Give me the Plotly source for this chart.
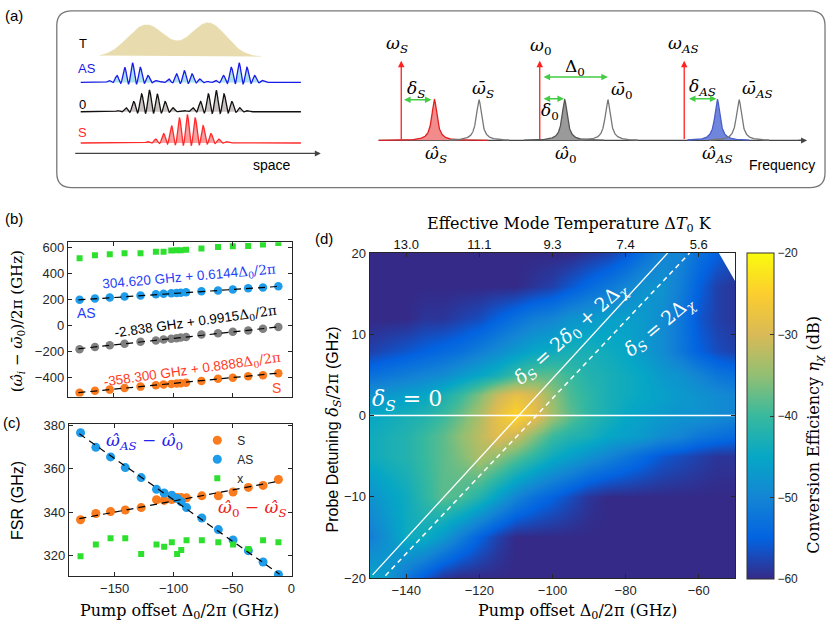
import numpy as np
import plotly.graph_objects as go

W, H = 831, 631
SANS = "Liberation Sans, Arial, sans-serif"
SERIF = "DejaVu Serif, serif"

# ---------------- data: panels (b) and (c) ----------------
pump_offset = [-179, -166, -153.5, -141, -127.5, -114.5, -108, -101.5, -97,
               -93.5, -89, -76, -62, -49.5, -36.5, -24, -11]

# (b) mode frequencies relative to the cold mode (GHz)
b_as = [195, 205, 212, 220, 228, 237, 242, 245, 248, 250, 253, 260, 267,
        275, 283, 290, 300]
b_zero = [-185, -168, -155, -142, -127, -117, -110, -104, -100, -95, -90,
          -72, -62, -50, -40, -28, -13]
b_s = [-520, -503, -495, -482, -472, -462, -456, -452, -448, -446, -442,
       -428, -412, -404, -393, -384, -370]
b_x = [515, 537, 545, 552, 552, 565, 565, 573, 575, 576, 580, 590, 600,
       607, 608, 620, 632]
fit_x = [-180, -10]
fit_b_as = [194, 298.5]
fit_b_zero = [-181.3, -12.8]
fit_b_s = [-518.3, -367.2]

# (c) free spectral ranges (GHz)
c_s = [336.5, 339.4, 340.3, 341.0, 342.1, 345.7, 345.4, 345.8, 346.7, 346.7,
       346.6, 347.5, 347.5, 349.3, 351.4, 352.3, 355.0]
c_as = [376.5, 369.8, 365.4, 360.5, 355.9, 350.5, 348.8, 347.8, 346.3, 344.8,
        342.1, 337.3, 332.0, 327.2, 322.3, 317.1, 311.4]
c_x = [319.8, 325.2, 328.0, 328.0, 320.8, 325.2, 324.1, 326.2, 320.8, 322.6,
       327.1, 327.1, 326.2, 325.2, 323.1, 327.1, 326.2]
fit_c_s = [337.0, 354.3]
fit_c_as = [376.0, 311.5]

# ---------------- data: panel (d) conversion efficiency (dB) ----------------
det_x = [-150, -145, -140, -135, -130, -125, -120, -115, -110, -105, -100,
         -95, -90, -85, -80, -75, -70, -65, -60, -55, -50]
det_y = [-20, -15, -10, -5, -2.5, 0, 2.5, 5, 8, 12, 16, 20]
eff_m20 = [-45, -47, -52, -56, -59, -60, -60, -60, -60, -60, -60, -60, -60, -60, -60, -60, -60, -60, -60, -60, -60]
eff_m15 = [-51, -48, -44, -44, -47, -51, -55, -58, -60, -60, -60, -60, -60, -60, -60, -60, -60, -60, -60, -60, -60]
eff_m10 = [-48, -46, -44, -41, -38, -39, -42, -46, -50, -53, -55, -57, -59, -60, -60, -60, -60, -60, -60, -60, -60]
eff_m5 = [-44, -43, -42, -40, -38, -36, -33, -35, -38, -41, -44, -46, -48, -50, -52, -54, -56, -57, -58, -59, -59]
eff_m2 = [-44, -43, -42, -40, -38, -35, -32, -29, -31, -36, -40, -42, -43, -45, -46, -47, -49, -50, -52, -53, -54]
eff_0 = [-45, -44, -43, -42, -40, -37, -33, -28, -24, -28, -34, -38, -41, -43, -45, -46, -47, -48, -48, -49, -50]
eff_p2 = [-48, -47, -46, -45, -43, -40, -36, -31, -28, -30, -35, -39, -41, -43, -44, -45, -46, -47, -48, -49, -50]
eff_p5 = [-53, -52, -51, -50, -49, -47, -45, -43, -40, -38, -38, -40, -42, -43, -44, -45, -47, -48, -50, -52, -53]
eff_p8 = [-58, -57, -56, -55, -54, -53, -51, -49, -47, -45, -44, -43, -43, -44, -45, -47, -49, -52, -55, -57, -58]
eff_p12 = [-60, -60, -60, -59, -59, -58, -57, -55, -53, -51, -50, -48, -47, -46, -46, -47, -49, -52, -56, -58, -59]
eff_p16 = [-60, -60, -60, -60, -60, -60, -60, -60, -60, -59, -58, -56, -54, -52, -50, -48, -48, -51, -55, -58, -59]
eff_p20 = [-60, -60, -60, -60, -60, -60, -60, -60, -60, -60, -60, -60, -59, -58, -56, -53, -50, -50, -53, -55, -57]
eff_db = [eff_m20, eff_m15, eff_m10, eff_m5, eff_m2, eff_0, eff_p2, eff_p5,
          eff_p8, eff_p12, eff_p16, eff_p20]

# no-data corner (top right)
mask_x = [-54.5, -50, -50]
mask_y = [20, 20, 16.5]

# resonance lines
zero_line_x = [-150, -50]
zero_line_y = [0, 0]
line_solid_x = [-149.2, -68.5]
line_solid_y = [-19.6, 20]
line_dash_x = [-145.7, -62.5]
line_dash_y = [-19.7, 20]

temp_ticks = [-140, -120, -100, -80, -60]
temp_labels = ["13.0", "11.1", "9.3", "7.4", "5.6"]

# ---------------- sketch geometry for panel (a), pixel units ----------------
wave_span = [81, 302]
wave_period = 8
t_centers, t_amps, t_widths = [147, 209], [33, 35], [19, 18]
as_centers, as_amps, as_widths = [133, 185, 240], [20, 12, 20], [11, 10, 11]
zero_centers, zero_amps, zero_widths = [150, 217], [22, 22], [13, 13]
s_centers, s_amps, s_widths = [188], [29], [16]
filled_peaks = [436, 566.7, 720]
bare_peaks = [480.7, 610, 741.7]
pump_lines = [402.7, 541.7, 686.7]

parula = [[0.0, '#352a87'], [0.125, '#0363e1'], [0.25, '#1485d4'],
          [0.375, '#06a7c6'], [0.5, '#38b99e'], [0.625, '#92bf73'],
          [0.75, '#d9ba56'], [0.875, '#fcce2e'], [1.0, '#f9fb0e']]

C_AS = '#1e9be9'
C_S = '#fa7a1e'
C_GREY = '#808080'
C_GREEN = '#2de02d'


def px(x):
    return x / W


def py(y):
    return 1 - y / H


fig = go.Figure()


# ---------------- panel (a) ----------------
def sketch(x, y, line_color, fill_color=None, width=1.3):
    fig.add_trace(go.Scatter(
        x=x, y=y, mode='lines', xaxis='x5', yaxis='y5',
        fill='toself' if fill_color else None, fillcolor=fill_color,
        line=dict(color=line_color, width=width),
        hoverinfo='skip', showlegend=False))


def wave(base, centers, amps, widths):
    x = np.linspace(wave_span[0], wave_span[1], 800)
    y = np.full_like(x, base)
    for c, a, w in zip(centers, amps, widths):
        env = a * np.exp(-(x - c) ** 2 / (2 * w ** 2))
        y -= env * (np.cos(2 * np.pi * (x - c) / wave_period) + 0.85) / 1.85
    return x, y


# temperature profile
xt = np.linspace(100, 262, 300)
yt = np.full_like(xt, 51.3)
for c, a, w in zip(t_centers, t_amps, t_widths):
    yt -= a * np.exp(-(xt - c) ** 2 / (2 * w ** 2))
sketch(xt, yt, '#e8dcae', '#e8dcae', width=0.5)

sketch(*wave(77.3, as_centers, as_amps, as_widths), '#1a1ae6', '#a9e3f0')
sketch(*wave(107.3, zero_centers, zero_amps, zero_widths), '#111111', '#cbc2c2')
sketch(*wave(139.3, s_centers, s_amps, s_widths), '#ff2a2a', '#f8a0a0')

# frequency axis baseline
sketch([380, 806], [136.7, 136.7], '#444444', width=1.2)


def lorentz(x0, lo, hi):
    x = np.linspace(lo, hi, 400)
    y = 136.7 - 41.7 / (1 + ((x - x0) / 3.2) ** 2)
    return x, y


sketch(*lorentz(filled_peaks[0], 380, 490), '#e02020', '#f28b8b')
sketch(*lorentz(filled_peaks[1], 526, 606), '#555555', '#9a9a9a')
sketch(*lorentz(filled_peaks[2], 690, 752), '#4a5ec8', '#6f86dc')
for p in bare_peaks:
    sketch(*lorentz(p, p - 30, p + 30), '#777777', width=1.3)

ann = []


def text(x, y, s, size=14, color='black', family=SANS, ref='5', angle=0):
    ann.append(dict(x=x, y=y, xref='x' + ref if ref else 'paper',
                    yref='y' + ref if ref else 'paper', text=s,
                    showarrow=False, textangle=angle,
                    xanchor='center', yanchor='middle',
                    font=dict(size=size, color=color, family=family)))


def arrow(x, y, ax, ay, color, width=1.3, both=False):
    ann.append(dict(x=x, y=y, ax=ax, ay=ay, xref='x5', yref='y5',
                    axref='x5', ayref='y5', text='', showarrow=True,
                    arrowhead=2, arrowsize=1, arrowwidth=width,
                    arrowcolor=color,
                    arrowside='end+start' if both else 'end',
                    startarrowhead=2, startarrowsize=1))


for p in pump_lines:
    arrow(p, 55, p, 136.7, '#ff2020')
arrow(810, 136.7, 800, 136.7, '#444444', width=1.2)
arrow(322, 150, 74, 150, '#444444', width=1.2)
arrow(433, 95, 404, 95, '#44cc44', both=True)
arrow(610, 71.7, 544, 71.7, '#44cc44', both=True)
arrow(566, 94, 544, 94, '#44cc44', both=True)
arrow(719, 94, 690, 94, '#44cc44', both=True)

text(83, 37, 'T', 13)
text(87, 63, 'AS', 13, '#1a1ae6')
text(83, 100, '0', 13)
text(83, 129, 'S', 13, '#ff2a2a')
text(273, 162, 'space', 14)
text(785, 162, 'Frequency', 14)
text(398, 38, '<i>ω<sub>S</sub></i>', 17, family=SERIF)
text(542, 40, '<i>ω</i><sub>0</sub>', 17, family=SERIF)
text(686, 38, '<i>ω<sub>AS</sub></i>', 17, family=SERIF)
text(418, 84, '<i>δ<sub>S</sub></i>', 17, family=SERIF)
text(577, 62, 'Δ<sub>0</sub>', 17, family=SERIF)
text(552, 107, '<i>δ</i><sub>0</sub>', 17, family=SERIF)
text(705, 82, '<i>δ<sub>AS</sub></i>', 17, family=SERIF)
text(485, 85, '<i>ω\u0304<sub>S</sub></i>', 17, family=SERIF)
text(624, 86, '<i>ω\u0304</i><sub>0</sub>', 17, family=SERIF)
text(760, 85, '<i>ω\u0304<sub>AS</sub></i>', 17, family=SERIF)
text(438, 151, '<i>ω\u0302<sub>S</sub></i>', 17, family=SERIF)
text(568, 151, '<i>ω\u0302</i><sub>0</sub>', 17, family=SERIF)
text(720, 151, '<i>ω\u0302<sub>AS</sub></i>', 17, family=SERIF)

# ---------------- panel (b) ----------------
for yv, col in [(b_x, C_GREEN), (b_as, C_AS), (b_zero, C_GREY), (b_s, C_S)]:
    fig.add_trace(go.Scatter(
        x=pump_offset, y=yv, mode='markers', xaxis='x', yaxis='y',
        marker=dict(size=6 if col == C_GREEN else 8.5, color=col,
                    symbol='square' if col == C_GREEN else 'circle'),
        showlegend=False))
for yv in [fit_b_as, fit_b_zero, fit_b_s]:
    fig.add_trace(go.Scatter(
        x=fit_x, y=yv, mode='lines', xaxis='x', yaxis='y',
        line=dict(color='black', width=1.2, dash='7px,5px'), showlegend=False))

mathpart = "<span style='font-family:DejaVu Serif'>Δ<sub>0</sub>/2π</span>"
text(-86.4, 372, '304.620 GHz + 0.6144' + mathpart, 13.5, '#1f3ff5', ref='', angle=-5)
text(-80.8, 22, '-2.838 GHz + 0.9915' + mathpart, 13.5, 'black', ref='', angle=-8)
text(-83.6, -341, '-358.300 GHz + 0.8888' + mathpart, 13.5, '#ff3b1f', ref='', angle=-8)
text(-173.5, 95, 'AS', 14, '#1f3ff5', ref='')
text(-12.5, -485, 'S', 14, '#ff4a1e', ref='')
# these five live in the (b) data coordinates
for a in ann[-5:]:
    a['xref'], a['yref'] = 'x', 'y'

# ---------------- panel (c) ----------------
for name, yv, col in [('S', c_s, C_S), ('AS', c_as, C_AS), ('x', c_x, C_GREEN)]:
    fig.add_trace(go.Scatter(
        x=pump_offset, y=yv, mode='markers', name=name, xaxis='x2', yaxis='y2',
        marker=dict(size=6 if name == 'x' else 9, color=col,
                    symbol='square' if name == 'x' else 'circle')))
for yv in [fit_c_s, fit_c_as]:
    fig.add_trace(go.Scatter(
        x=fit_x, y=yv, mode='lines', xaxis='x2', yaxis='y2',
        line=dict(color='black', width=1.2, dash='7px,5px'), showlegend=False))
text(-124.6, 372.5, '<i>ω\u0302<sub>AS</sub></i> − <i>ω\u0302</i><sub>0</sub>', 17, '#2222ee', SERIF, ref='2')
text(-32.8, 341.9, '<i>ω\u0302</i><sub>0</sub> − <i>ω\u0302<sub>S</sub></i>', 17, '#f02020', SERIF, ref='2')

# ---------------- panel (d) ----------------
fig.add_trace(go.Heatmap(
    x=det_x, y=det_y, z=eff_db, zmin=-60, zmax=-20, colorscale=parula,
    zsmooth='best', xaxis='x3', yaxis='y3', hoverinfo='skip',
    colorbar=dict(x=px(750), xanchor='left', y=py(419), yanchor='middle',
                  len=(586 - 252) / H, thickness=27, outlinewidth=1,
                  outlinecolor='#333', tickvals=[-60, -50, -40, -30, -20],
                  ticks='inside', ticklen=4, tickcolor='#333', xpad=0, ypad=0,
                  tickfont=dict(size=12, family=SANS, color='#262626'))))
fig.add_trace(go.Scatter(x=mask_x, y=mask_y, mode='lines', fill='toself',
                         fillcolor='white', line=dict(width=0, color='white'),
                         xaxis='x3', yaxis='y3', showlegend=False, hoverinfo='skip'))
fig.add_trace(go.Scatter(x=zero_line_x, y=zero_line_y, mode='lines',
                         line=dict(color='white', width=1.5), xaxis='x3',
                         yaxis='y3', showlegend=False))
fig.add_trace(go.Scatter(x=line_solid_x, y=line_solid_y, mode='lines',
                         line=dict(color='white', width=1.3), xaxis='x3',
                         yaxis='y3', showlegend=False))
fig.add_trace(go.Scatter(x=line_dash_x, y=line_dash_y, mode='lines',
                         line=dict(color='white', width=1.5, dash='5px,4px'),
                         xaxis='x3', yaxis='y3', showlegend=False))
fig.add_trace(go.Scatter(x=temp_ticks, y=[None] * len(temp_ticks), mode='markers',
                         xaxis='x4', yaxis='y3', showlegend=False, hoverinfo='skip'))

text(-139.8, 1.9, '<i>δ<sub>S</sub></i> = 0', 22, 'white', SERIF, ref='3')
text(-95, 10.1, '<i>δ<sub>S</sub></i> = 2<i>δ</i><sub>0</sub> + 2Δ<sub><i>χ</i></sub>', 19, 'white', SERIF, ref='3', angle=-42)
text(-70.8, 10.9, '<i>δ<sub>S</sub></i> = 2Δ<sub><i>χ</i></sub>', 19, 'white', SERIF, ref='3', angle=-40)

# ---------------- titles and panel labels (paper) ----------------
text(px(14), py(9), '(a)', 15, ref='')
text(px(14), py(217), '(b)', 15, ref='')
text(px(12), py(426), '(c)', 15, ref='')
text(px(325), py(237), '(d)', 15, ref='')
text(px(17), py(322), '(<i>ω\u0302<sub>i</sub></i> − <i>ω\u0304</i><sub>0</sub>)/2π (GHz)',
     15, family=SERIF, ref='', angle=-90)
text(px(18), py(505), 'FSR (GHz)', 16, ref='', angle=-90)
text(px(180), py(619), 'Pump offset Δ<sub>0</sub>/2π (GHz)', 16, family=SERIF, ref='')
text(px(580), py(619), 'Pump offset Δ<sub>0</sub>/2π (GHz)', 16, family=SERIF, ref='')
text(px(572), py(223), 'Effective Mode Temperature Δ<i>T</i><sub>0</sub> K', 16, family=SERIF, ref='')
text(px(335), py(433), "Probe Detuning <span style='font-family:DejaVu Serif'><i>δ<sub>S</sub></i>/2π</span> (GHz)",
     16, ref='', angle=-90)
text(px(818), py(438), 'Conversion Efficiency <i>η<sub>χ</sub></i> (dB)', 16, family=SERIF, ref='', angle=-90)

box = dict(showline=True, linecolor='#262626', linewidth=1, mirror='ticks',
           ticks='inside', ticklen=4, tickcolor='#262626', showgrid=False,
           zeroline=False, tickfont=dict(size=13, family=SANS, color='#262626'))

r = 15
x0, x1, y0, y1 = 57, 828, 4, 185
frame = (f"M {x0 + r},{y0} L {x1 - r},{y0} Q {x1},{y0} {x1},{y0 + r} "
         f"L {x1},{y1 - r} Q {x1},{y1} {x1 - r},{y1} L {x0 + r},{y1} "
         f"Q {x0},{y1} {x0},{y1 - r} L {x0},{y0 + r} Q {x0},{y0} {x0 + r},{y0} Z")

fig.update_layout(
    width=W, height=H, margin=dict(l=0, r=0, t=0, b=0),
    paper_bgcolor='white', plot_bgcolor='white',
    font=dict(family=SANS, color='#262626'),
    xaxis=dict(domain=[px(68), px(293)], range=[-189, 0.5], anchor='y',
               tickvals=[-150, -100, -50, 0], showticklabels=False, **box),
    yaxis=dict(domain=[py(399), py(241)], range=[-548, 637], anchor='x',
               tickvals=[-400, -200, 0, 200, 400, 600], **box),
    xaxis2=dict(domain=[px(69), px(293)], range=[-189, 0.5], anchor='y2',
                tickvals=[-150, -100, -50, 0], **box),
    yaxis2=dict(domain=[py(583), py(427)], range=[310.6, 380.6], anchor='x2',
                tickvals=[320, 340, 360, 380], **box),
    xaxis3=dict(domain=[px(371), px(738)], range=[-150, -50], anchor='y3',
                tickvals=[-140, -120, -100, -80, -60], **box),
    yaxis3=dict(domain=[py(585), py(252)], range=[-20, 20], anchor='x3',
                tickvals=[-20, -10, 0, 10, 20], **box),
    xaxis4=dict(overlaying='x3', side='top', anchor='y3', range=[-150, -50],
                tickvals=temp_ticks, ticktext=temp_labels, ticks='inside',
                ticklen=4, tickcolor='#262626', showgrid=False, zeroline=False,
                showline=False, tickfont=dict(size=13, family=SANS, color='#111')),
    xaxis5=dict(domain=[0, 1], range=[0, W], anchor='y5', visible=False),
    yaxis5=dict(domain=[py(190), 1], range=[190, 0], anchor='x5', visible=False),
    legend=dict(x=px(198), y=py(429), xanchor='left', yanchor='top',
                bgcolor='rgba(0,0,0,0)', font=dict(size=12, family=SANS),
                tracegroupgap=0, itemwidth=30),
    annotations=ann,
    shapes=[dict(type='path', path=frame, xref='x5', yref='y5',
                 line=dict(color='#777777', width=1.3))],
)

# the page's default body margin would push the figure 8px off
fig.write_html("out.html", config={'displayModeBar': False},
               post_script="document.body.style.margin='0';"
                           "document.body.style.overflow='hidden';")
